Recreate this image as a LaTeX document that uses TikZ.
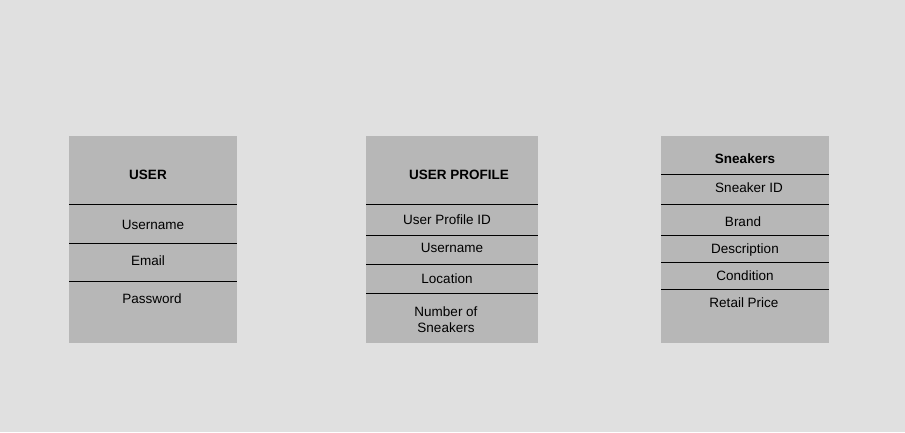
\documentclass[tikz,border=0pt]{standalone}
\usepackage{fontspec}
\setmainfont{Liberation Sans}
\definecolor{bgcol}{HTML}{E0E0E0}
\definecolor{boxcol}{HTML}{B7B7B7}
\begin{document}
\begin{tikzpicture}[x=1pt,y=-1pt,line join=round,line cap=butt,
	font=\fontsize{13.5}{16}\selectfont,
	tbl/.style={fill=boxcol},
	sep/.style={line width=1pt,black},
	hd/.style={font=\fontsize{13.5}{16}\selectfont\bfseries},
	fld/.style={align=center,inner sep=0pt}]
	\fill[bgcol] (0,0) rectangle (905,432);
	\useasboundingbox (0,0) rectangle (905,432);
	% tables
	\fill[tbl] (69,136) rectangle (237,343);
	\fill[tbl] (366,136) rectangle (538,343);
	\fill[tbl] (661,136) rectangle (829,343);
	\foreach \y in {204,243,281}
	\draw[sep] (69,\y) -- (237,\y);
	\foreach \y in {204,235,264,293}
	\draw[sep] (366,\y) -- (538,\y);
	\foreach \y in {174,204,235,262,289}
	\draw[sep] (661,\y) -- (829,\y);
	% headers
	\node[hd] (user) at (148,175) {USER};
	\node[hd] (profile) at (459,175) {USER PROFILE};
	\node[hd] (sneakers) at (745,159) {Sneakers};
	% fields
	\foreach \nm/\x/\y/\txt in {uname/153/225/Username,email/148/261/Email,pwd/152/299/Password,
		pid/447/220/User Profile ID,pname/452/248/Username,loc/447/279/Location,
		num/446/320/{Number of\\Sneakers},
		sid/749/188/Sneaker ID,brand/743/222/Brand,desc/745/250/Description,
		cond/745/276/Condition,price/744/303/Retail Price}
	\node[fld] (\nm) at (\x,\y) {\txt};
\end{tikzpicture}
\end{document}
